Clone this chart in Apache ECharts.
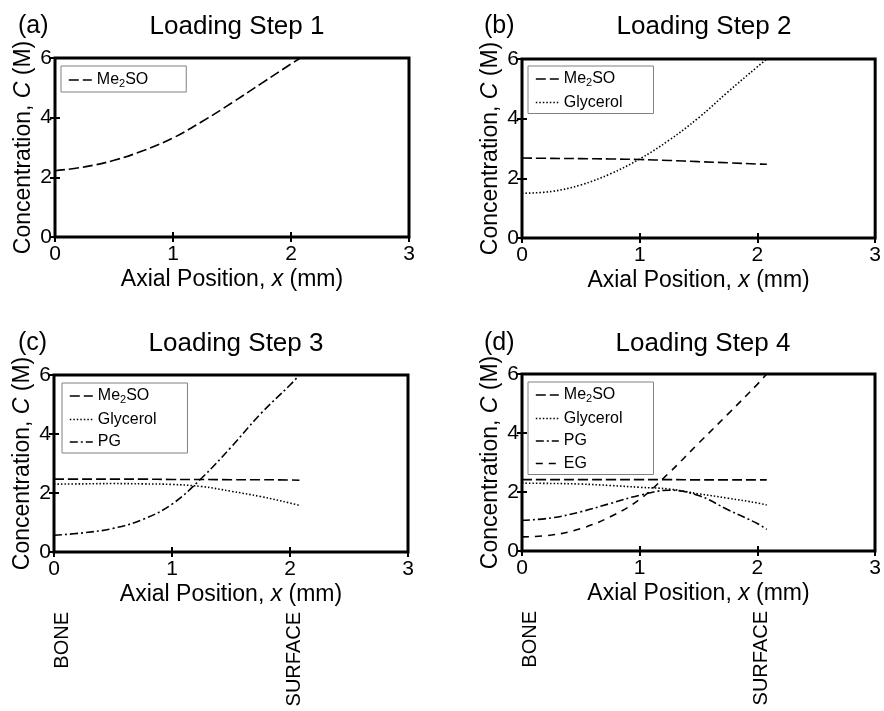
<!DOCTYPE html>
<html><head><meta charset="utf-8">
<script src="https://cdn.jsdelivr.net/npm/echarts@6/dist/echarts.min.js"></script>
<style>html,body{margin:0;padding:0;background:#fff}#c{width:884px;height:711px}</style>
</head><body><div id="c"></div>
<script>
// ---------- data ----------
const xPos = [0, 0.25, 0.5, 0.75, 1, 1.25, 1.5, 1.75, 2, 2.08];
const xTickLabels = ['0', '1', '2', '3'];
const yTickLabels = ['0', '2', '4', '6'];
const panelLetters = ['(a)', '(b)', '(c)', '(d)'];
const panelTitles = ['Loading Step 1', 'Loading Step 2', 'Loading Step 3', 'Loading Step 4'];

const step1Me2SO    = [2.22, 2.35, 2.57, 2.90, 3.32, 3.88, 4.50, 5.15, 5.80, 6.00];

const step2Me2SO    = [2.68, 2.67, 2.66, 2.65, 2.63, 2.60, 2.56, 2.52, 2.48, 2.47];
const step2Glycerol = [1.50, 1.56, 1.78, 2.15, 2.65, 3.28, 4.03, 4.90, 5.74, 6.00];

const step3Me2SO    = [2.47, 2.47, 2.47, 2.47, 2.46, 2.46, 2.45, 2.45, 2.44, 2.43];
const step3Glycerol = [2.30, 2.31, 2.32, 2.31, 2.29, 2.22, 2.06, 1.88, 1.66, 1.58];
const step3PG       = [0.57, 0.65, 0.80, 1.10, 1.62, 2.50, 3.55, 4.68, 5.66, 6.00];

const step4Me2SO    = [2.42, 2.42, 2.42, 2.42, 2.42, 2.42, 2.41, 2.41, 2.41, 2.41];
const step4Glycerol = [2.30, 2.29, 2.27, 2.22, 2.16, 2.10, 1.94, 1.79, 1.63, 1.56];
const step4PG       = [1.04, 1.12, 1.33, 1.61, 1.89, 2.06, 1.88, 1.40, 0.93, 0.73];
const step4EG       = [0.48, 0.54, 0.76, 1.16, 1.75, 2.65, 3.65, 4.64, 5.65, 6.00];

const edgeLabels = ['BONE', 'SURFACE'];
const edgeX = [0, 2.08];

// ---------- styling / layout ----------
const FONT = '"Liberation Sans", Arial, Helvetica, sans-serif';
const dashes = { Me2SO: [10, 4], Glycerol: [1.5, 2], PG: [8, 3, 2, 3], EG: [7, 6] };
const panels = [
  { grid: { left: 55, top: 58, width: 354, height: 179 }, letterX: 13, titleX: 232, titleY: 9,
    series: { Me2SO: step1Me2SO }, legend: { left: 61, top: 66, padding: [5, 38, 3, 7] } },
  { grid: { left: 522, top: 59, width: 354, height: 179 }, letterX: 479, titleX: 699, titleY: 9,
    series: { Me2SO: step2Me2SO, Glycerol: step2Glycerol }, legend: { left: 528, top: 66, padding: [4, 31, 3, 7] } },
  { grid: { left: 54, top: 375, width: 354, height: 177 }, letterX: 13, titleX: 231, titleY: 326,
    series: { Me2SO: step3Me2SO, Glycerol: step3Glycerol, PG: step3PG }, legend: { left: 62, top: 383, padding: [4, 31, 3, 7] } },
  { grid: { left: 522, top: 374, width: 353, height: 177 }, letterX: 479, titleX: 698, titleY: 326,
    series: { Me2SO: step4Me2SO, Glycerol: step4Glycerol, PG: step4PG, EG: step4EG }, legend: { left: 528, top: 382, padding: [4, 31, 3, 7] } }
];

const grids = [], xAxes = [], yAxes = [], series = [], legends = [], titles = [];
const tickStyle = { show: true, inside: true, length: 5, lineStyle: { color: '#000', width: 2 } };

panels.forEach((p, g) => {
  grids.push(Object.assign({ show: true, borderColor: '#000', borderWidth: 3, backgroundColor: 'transparent' }, p.grid));
  xAxes.push({
    gridIndex: g, type: 'value', min: 0, max: 3, interval: 1, position: 'bottom',
    axisLine: { show: false }, axisTick: tickStyle, splitLine: { show: false },
    axisLabel: { color: '#000', fontSize: 21, fontFamily: FONT, margin: 7,
      formatter: v => xTickLabels[Math.round(v)] },
    name: 'Axial Position, {i|x} (mm)', nameLocation: 'middle', nameGap: 31,
    nameTextStyle: { color: '#000', fontSize: 23, fontFamily: FONT,
      rich: { i: { fontStyle: 'italic', fontSize: 23, fontFamily: FONT, color: '#000' } } }
  });
  xAxes.push({
    gridIndex: g, type: 'value', min: 0, max: 3, interval: 1, position: 'top',
    axisLine: { show: false }, axisTick: tickStyle, splitLine: { show: false }, axisLabel: { show: false }
  });
  yAxes.push({
    gridIndex: g, type: 'value', min: 0, max: 6, interval: 2, position: 'left',
    axisLine: { show: false }, axisTick: tickStyle, splitLine: { show: false },
    axisLabel: { color: '#000', fontSize: 21, fontFamily: FONT, margin: 3,
      formatter: v => yTickLabels[Math.round(v / 2)] },
    name: 'Concentration, {i|C} (M)', nameLocation: 'middle', nameGap: 20,
    nameTextStyle: { color: '#000', fontSize: 23, fontFamily: FONT,
      rich: { i: { fontStyle: 'italic', fontSize: 23, fontFamily: FONT, color: '#000' } } }
  });
  yAxes.push({
    gridIndex: g, type: 'value', min: 0, max: 6, interval: 2, position: 'right',
    axisLine: { show: false }, axisTick: tickStyle, splitLine: { show: false }, axisLabel: { show: false }
  });

  const names = Object.keys(p.series);
  names.forEach(n => {
    const vals = p.series[n];
    series.push({
      type: 'line', name: n, xAxisIndex: 2 * g, yAxisIndex: 2 * g,
      data: xPos.map((x, i) => [x, vals[i]]),
      smooth: 0.4, showSymbol: false, symbol: 'none', silent: true,
      lineStyle: { color: '#000', width: 1.6, type: dashes[n], cap: 'butt' },
      itemStyle: { color: '#000' }, z: 3
    });
  });

  legends.push({
    data: names, orient: 'vertical', left: p.legend.left, top: p.legend.top,
    padding: p.legend.padding, itemGap: 6.5, itemWidth: 23, itemHeight: 14,
    backgroundColor: '#fff', borderColor: '#808080', borderWidth: 1, borderRadius: 0,
    selectedMode: false,
    itemStyle: { opacity: 0, color: 'transparent', borderWidth: 0 },
    lineStyle: { width: 1.6 },
    textStyle: { color: '#000', fontSize: 16, fontFamily: FONT, lineHeight: 16,
      rich: { sub: { fontSize: 11, fontFamily: FONT, color: '#000', padding: [7, 0, 0, 0], lineHeight: 11 } } },
    formatter: n => n === 'Me2SO' ? 'Me{sub|2}SO' : n,
    z: 5
  });

  titles.push({ text: panelLetters[g], left: p.letterX, top: p.titleY,
    textStyle: { color: '#000', fontSize: 25, fontWeight: 'normal', fontFamily: FONT } });
  titles.push({ text: panelTitles[g], left: p.titleX, top: p.titleY, textAlign: 'center',
    textStyle: { color: '#000', fontSize: 26, fontWeight: 'normal', fontFamily: FONT } });
});

const option = {
  backgroundColor: '#fff', animation: false,
  textStyle: { fontFamily: FONT },
  title: titles, grid: grids, xAxis: xAxes, yAxis: yAxes, legend: legends, series: series
};

const chart = echarts.init(document.getElementById('c'));
chart.setOption(option);

const graphics = [];
[2, 3].forEach(g => {
  const y0 = chart.convertToPixel({ yAxisIndex: 2 * g }, 0);
  edgeLabels.forEach((t, k) => {
    const px = chart.convertToPixel({ xAxisIndex: 2 * g }, edgeX[k]);
    graphics.push({
      type: 'text', x: px + (k === 0 ? 8 : -5), y: y0 + 60, rotation: Math.PI / 2,
      style: { text: t, font: '20px ' + FONT, align: 'right', verticalAlign: 'middle', fill: '#000' }
    });
  });
});
chart.setOption({ graphic: graphics });
</script>
</body></html>
